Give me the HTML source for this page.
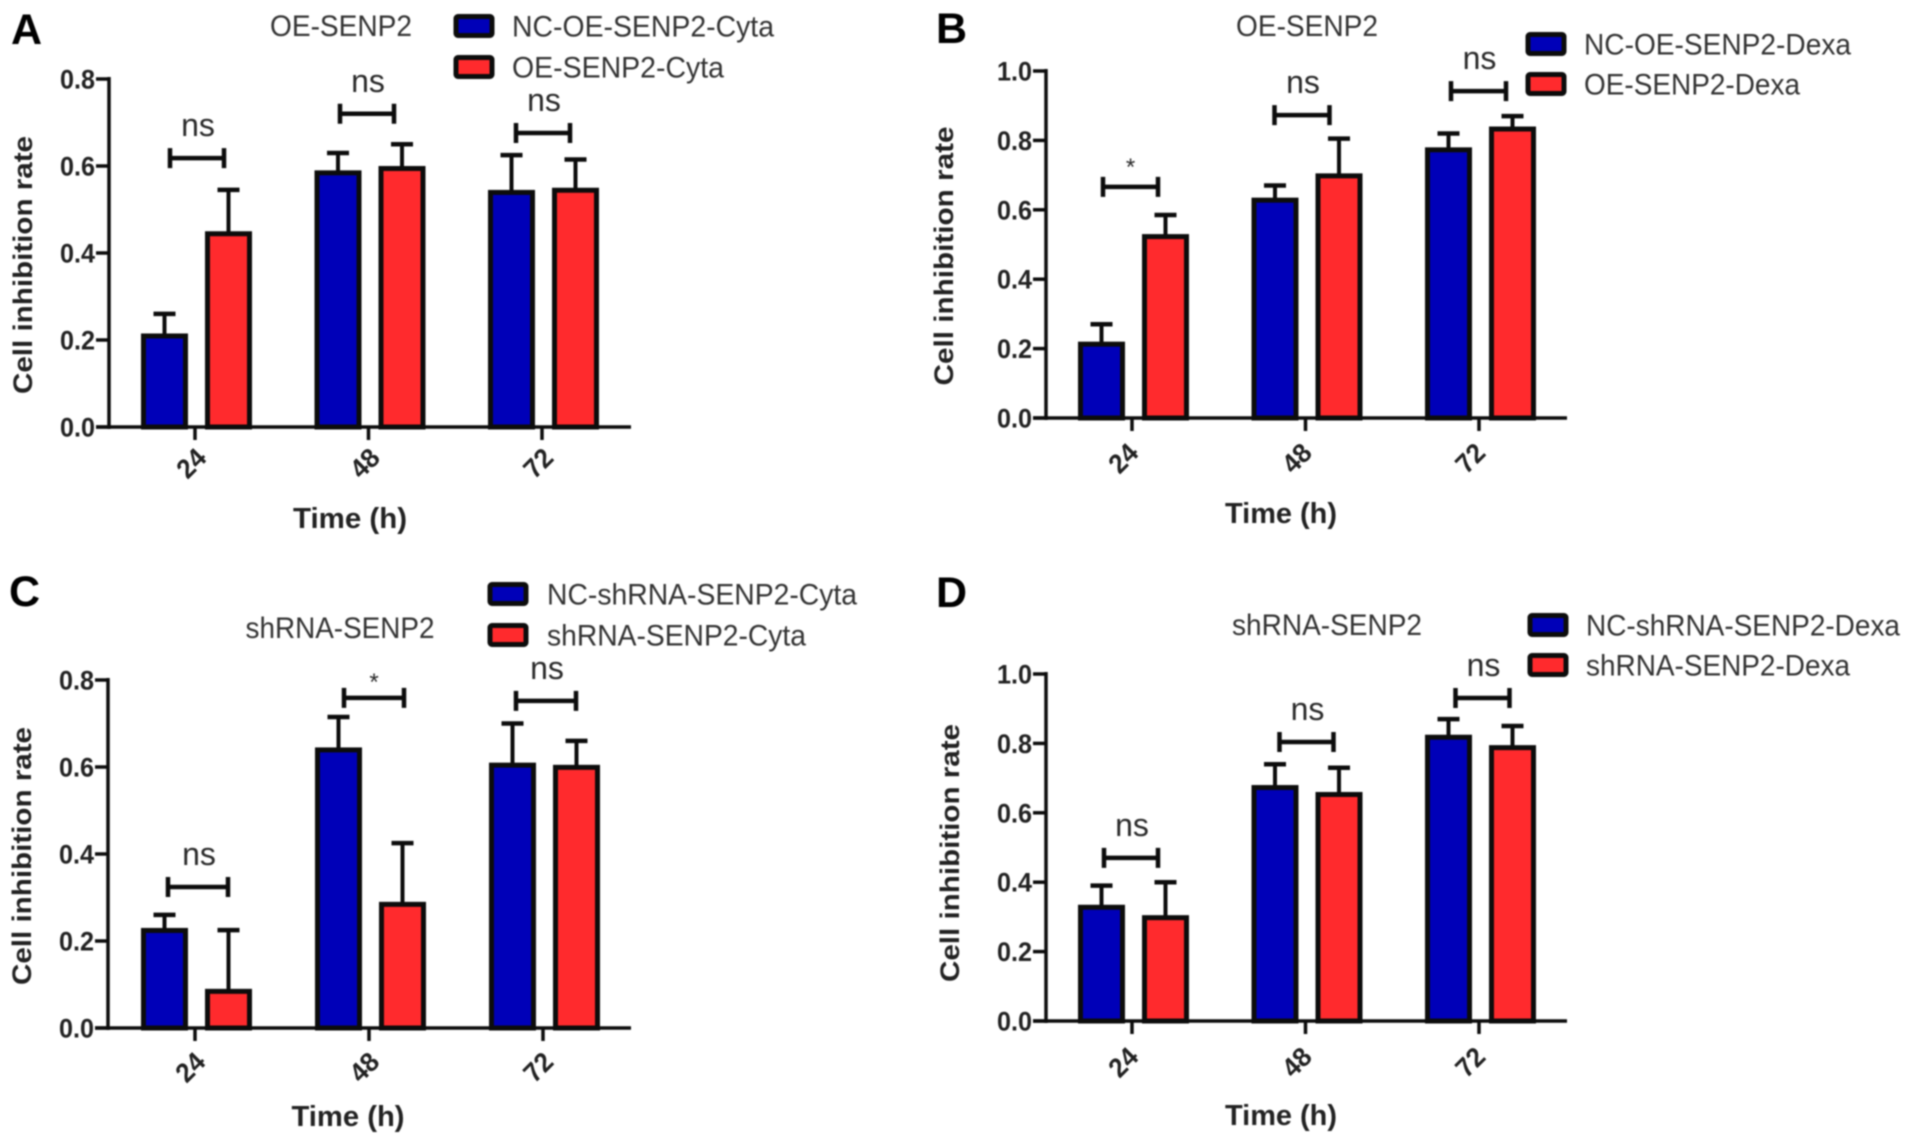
<!DOCTYPE html>
<html lang="en">
<head>
<meta charset="utf-8">
<title>Cell inhibition rate panels</title>
<style>
  html, body { margin: 0; padding: 0; background: #fff; }
  #figure { display: block; width: 1913px; height: 1146px; filter: blur(0.8px); font-family: "Liberation Sans", Arial, sans-serif; }
</style>
</head>
<body>
<svg id="figure" xmlns="http://www.w3.org/2000/svg" width="1913" height="1146" viewBox="0 0 1913 1146"></svg>
<script>
// ---- Chart data ----
const timeCategories = ['24', '48', '72'];
const yTicksLow = [0, 0.2, 0.4, 0.6, 0.8];
const yTicksHigh = [0, 0.2, 0.4, 0.6, 0.8, 1.0];

const panelANcValues = [0.215, 0.59, 0.545];
const panelATreatedValues = [0.45, 0.60, 0.55];
const panelANcErrorTops = [0.26, 0.63, 0.625];
const panelATreatedErrorTops = [0.545, 0.65, 0.615];
const panelABracketLevels = [0.618, 0.72, 0.676];
const panelAMarks = ['ns', 'ns', 'ns'];

const panelBNcValues = [0.22, 0.635, 0.78];
const panelBTreatedValues = [0.53, 0.705, 0.84];
const panelBNcErrorTops = [0.27, 0.67, 0.82];
const panelBTreatedErrorTops = [0.585, 0.805, 0.87];
const panelBBracketLevels = [0.666, 0.873, 0.942];
const panelBMarks = ['*', 'ns', 'ns'];

const panelCNcValues = [0.23, 0.645, 0.61];
const panelCTreatedValues = [0.09, 0.29, 0.605];
const panelCNcErrorTops = [0.26, 0.715, 0.70];
const panelCTreatedErrorTops = [0.225, 0.425, 0.66];
const panelCBracketLevels = [0.324, 0.759, 0.752];
const panelCMarks = ['ns', '*', 'ns'];

const panelDNcValues = [0.335, 0.68, 0.825];
const panelDTreatedValues = [0.305, 0.66, 0.795];
const panelDNcErrorTops = [0.39, 0.74, 0.87];
const panelDTreatedErrorTops = [0.40, 0.73, 0.85];
const panelDBracketLevels = [0.47, 0.804, 0.931];
const panelDMarks = ['ns', 'ns', 'ns'];

// ---- Panel definitions: data references + layout ----
const panels = [
  { letter: 'A', letterX: 11, letterY: 44, letterSize: 43,
    title: 'OE-SENP2', titleX: 341, titleY: 36, titleW: 142, titleSize: 30,
    legendNames: ['NC-OE-SENP2-Cyta', 'OE-SENP2-Cyta'], legendW: [262, 212],
    swatchX: 456, swatchW: 36, swatchH: 19, legendYs: [26, 67], legendTextX: 512,
    x0: 109, xEnd: 631, yBase: 427, yTop: 79, yMax: 0.8, ticks: yTicksLow,
    catXs0: 195, catStep: 173.5, barOff: 32, barW: 42, bracketHalf: 27, bracketShift: [2, -1.5, 1],
    yTitleX: 32, yTitleY: 265, yTitleW: 258, xTitleX: 350, xTitleY: 528, xTitleW: 114,
    catDx: -4, catDy: 36, starDy: -13,
    nc: panelANcValues, tr: panelATreatedValues, ncTop: panelANcErrorTops, trTop: panelATreatedErrorTops,
    brackets: panelABracketLevels, marks: panelAMarks },
  { letter: 'B', letterX: 936, letterY: 43, letterSize: 43,
    title: 'OE-SENP2', titleX: 1307, titleY: 36, titleW: 142, titleSize: 30,
    legendNames: ['NC-OE-SENP2-Dexa', 'OE-SENP2-Dexa'], legendW: [267, 216],
    swatchX: 1528, swatchW: 36, swatchH: 19, legendYs: [44, 84], legendTextX: 1584,
    x0: 1046, xEnd: 1567, yBase: 418, yTop: 71, yMax: 1.0, ticks: yTicksHigh,
    catXs0: 1132, catStep: 173.5, barOff: 32, barW: 42, bracketHalf: 27.5, bracketShift: [-1.5, -3.5, -0.5],
    yTitleX: 953, yTitleY: 256, yTitleW: 259, xTitleX: 1281, xTitleY: 523, xTitleW: 112,
    catDx: -9, catDy: 40, starDy: -13,
    nc: panelBNcValues, tr: panelBTreatedValues, ncTop: panelBNcErrorTops, trTop: panelBTreatedErrorTops,
    brackets: panelBBracketLevels, marks: panelBMarks },
  { letter: 'C', letterX: 9, letterY: 606, letterSize: 43,
    title: 'shRNA-SENP2', titleX: 340, titleY: 638, titleW: 189, titleSize: 30,
    legendNames: ['NC-shRNA-SENP2-Cyta', 'shRNA-SENP2-Cyta'], legendW: [310, 259],
    swatchX: 490, swatchW: 36, swatchH: 19, legendYs: [594, 635], legendTextX: 547,
    x0: 108, xEnd: 631, yBase: 1028, yTop: 680, yMax: 0.8, ticks: yTicksLow,
    catXs0: 195, catStep: 174, barOff: 32, barW: 42, bracketHalf: 30, bracketShift: [3, 5, 3],
    yTitleX: 31, yTitleY: 856, yTitleW: 258, xTitleX: 348, xTitleY: 1126, xTitleW: 113,
    catDx: -5, catDy: 39, starDy: -9,
    nc: panelCNcValues, tr: panelCTreatedValues, ncTop: panelCNcErrorTops, trTop: panelCTreatedErrorTops,
    brackets: panelCBracketLevels, marks: panelCMarks },
  { letter: 'D', letterX: 936, letterY: 607, letterSize: 43,
    title: 'shRNA-SENP2', titleX: 1327, titleY: 635, titleW: 190, titleSize: 30,
    legendNames: ['NC-shRNA-SENP2-Dexa', 'shRNA-SENP2-Dexa'], legendW: [314, 264],
    swatchX: 1530, swatchW: 36, swatchH: 19, legendYs: [625, 665], legendTextX: 1586,
    x0: 1046, xEnd: 1567, yBase: 1021, yTop: 674, yMax: 1.0, ticks: yTicksHigh,
    catXs0: 1132, catStep: 173.5, barOff: 32, barW: 42, bracketHalf: 27, bracketShift: [-1, 1, 3.5],
    yTitleX: 959, yTitleY: 853, yTitleW: 258, xTitleX: 1281, xTitleY: 1125, xTitleW: 112,
    catDx: -9, catDy: 41, starDy: -13,
    nc: panelDNcValues, tr: panelDTreatedValues, ncTop: panelDNcErrorTops, trTop: panelDTreatedErrorTops,
    brackets: panelDBracketLevels, marks: panelDMarks }
];

const BLUE = '#0000b8';
const RED = '#ff2a2d';
const INK = '#0c0c0c';
const LABEL = '#222';
const BAR_STROKE = 5;
const BAR_NUDGE = 1.5;
const SVGNS = 'http://www.w3.org/2000/svg';
const root = document.getElementById('figure');

function make(parent, tag, attrs, text) {
  const el = document.createElementNS(SVGNS, tag);
  for (const k in attrs) el.setAttribute(k, attrs[k]);
  if (text !== undefined) el.textContent = text;
  parent.appendChild(el);
  return el;
}

function drawBar(g, cx0, value, errTop, color, p, y) {
  const cx = cx0 + BAR_NUDGE;
  const top = y(value) + BAR_STROKE / 2;
  const capY = y(errTop);
  const errLine = make(g, 'line', { x1: cx, x2: cx, y1: top, y2: capY, stroke: INK, 'stroke-width': 4 });
  
  
  const cap = make(g, 'line', { x1: cx - 11, x2: cx + 11, y1: capY, y2: capY, stroke: INK, 'stroke-width': 4.5 });
  
  
  const bar = make(g, 'rect', { x: cx - p.barW / 2, y: top, width: p.barW, height: y(0) - top, fill: color, stroke: INK, 'stroke-width': BAR_STROKE });
  
  
}

panels.forEach(function (p) {
  const y = function (v) { return p.yBase - (v / p.yMax) * (p.yBase - p.yTop); };
  const x = function (i) { return p.catXs0 + i * p.catStep; };

  const g = make(root, 'g', {});
  
  

  const letter = make(g, 'text', { x: p.letterX, y: p.letterY, 'font-size': p.letterSize, 'font-weight': 700, fill: '#000' }, p.letter);
  
  

  const title = make(g, 'text', { x: p.titleX, y: p.titleY, 'font-size': p.titleSize, fill: '#333', 'text-anchor': 'middle', textLength: p.titleW, lengthAdjust: 'spacingAndGlyphs' }, p.title);
  
  

  // bars first so that the axes sit on top
  p.nc.forEach(function (v, i) { drawBar(g, x(i) - p.barOff, v, p.ncTop[i], BLUE, p, y); });
  p.tr.forEach(function (v, i) { drawBar(g, x(i) + p.barOff, v, p.trTop[i], RED, p, y); });

  // y axis
  const yAxis = make(g, 'line', { x1: p.x0, x2: p.x0, y1: p.yTop - 2, y2: p.yBase + 2, stroke: INK, 'stroke-width': 3.5 });
  
  
  p.ticks.forEach(function (t) {
    const tick = make(g, 'line', { x1: p.x0 - 13, x2: p.x0, y1: y(t), y2: y(t), stroke: INK, 'stroke-width': 3.5 });
    
    
    const tl = make(g, 'text', { x: p.x0 - 14, y: y(t) + 9.5, 'font-size': 27, 'font-weight': 700, fill: LABEL, 'text-anchor': 'end', textLength: 35, lengthAdjust: 'spacingAndGlyphs' }, t.toFixed(1));
    
    
  });

  // x axis
  const xAxis = make(g, 'line', { x1: p.x0 - 13, x2: p.xEnd, y1: p.yBase, y2: p.yBase, stroke: INK, 'stroke-width': 3.5 });
  
  
  timeCategories.forEach(function (c, i) {
    const tick = make(g, 'line', { x1: x(i), x2: x(i), y1: p.yBase, y2: p.yBase + 13, stroke: INK, 'stroke-width': 3.5 });
    
    
    const tl = make(g, 'text', { transform: 'translate(' + (x(i) + p.catDx) + ',' + (p.yBase + p.catDy) + ') rotate(-45)', y: 9.5, 'font-size': 27, 'font-weight': 700, fill: LABEL, 'text-anchor': 'middle', textLength: 29, lengthAdjust: 'spacingAndGlyphs' }, c);
    
    
  });

  // axis titles
  const yTitle = make(g, 'text', { transform: 'translate(' + p.yTitleX + ',' + p.yTitleY + ') rotate(-90)', 'font-size': 27, 'font-weight': 700, fill: LABEL, 'text-anchor': 'middle', textLength: p.yTitleW, lengthAdjust: 'spacingAndGlyphs' }, 'Cell inhibition rate');
  
  
  const xTitle = make(g, 'text', { x: p.xTitleX, y: p.xTitleY, 'font-size': 29, 'font-weight': 700, fill: LABEL, 'text-anchor': 'middle', textLength: p.xTitleW, lengthAdjust: 'spacingAndGlyphs' }, 'Time (h)');
  
  

  // significance brackets
  p.brackets.forEach(function (level, i) {
    const cx = x(i) + p.bracketShift[i];
    const by = y(level);
    const hb = make(g, 'path', {
      d: 'M' + (cx - p.bracketHalf) + ' ' + (by - 10) + 'V' + (by + 10) + 'M' + (cx - p.bracketHalf) + ' ' + by + 'H' + (cx + p.bracketHalf) + 'M' + (cx + p.bracketHalf) + ' ' + (by - 10) + 'V' + (by + 10),
      fill: 'none', stroke: INK, 'stroke-width': 4.5
    });
    
    
    const isStar = p.marks[i] === '*';
    const mark = make(g, 'text', {
      x: cx + (isStar ? 0 : 1), y: isStar ? by + p.starDy + 1 : by - 22,
      'font-size': isStar ? 24 : 32, fill: '#2a2a2a', 'text-anchor': 'middle'
    }, p.marks[i]);
    
    
  });

  // legend
  [BLUE, RED].forEach(function (color, i) {
    const cy = p.legendYs[i];
    const sw = make(g, 'rect', { x: p.swatchX, y: cy - p.swatchH / 2, width: p.swatchW, height: p.swatchH, rx: 2, fill: color, stroke: INK, 'stroke-width': 5 });
    
    
    const lt = make(g, 'text', { x: p.legendTextX, y: cy + 10.5, 'font-size': 30, fill: '#333', textLength: p.legendW[i], lengthAdjust: 'spacingAndGlyphs' }, p.legendNames[i]);
    
    
  });
});
</script>
</body>
</html>
